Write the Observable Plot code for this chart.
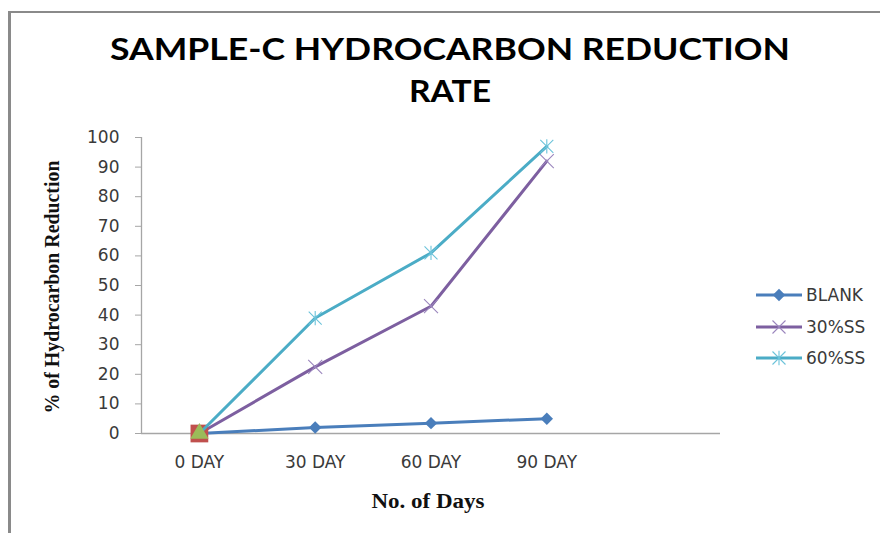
<!DOCTYPE html>
<html>
<head>
<meta charset="utf-8">
<script src="https://cdn.jsdelivr.net/npm/d3@7"></script>
<script src="https://cdn.jsdelivr.net/npm/@observablehq/plot@0.6"></script>
<style>
  html, body { margin: 0; padding: 0; background: #fff; }
  #wrap { position: relative; width: 880px; height: 533px; overflow: hidden; background: #fff; }
  #frame { position: absolute; left: 8px; top: 11px; width: 900px; height: 560px;
           border-left: 3px solid #8a8a8a; border-top: 2px solid #8a8a8a; box-sizing: border-box; }
  #chart, #overlay { position: absolute; left: 0; top: 0; }
  #chart [aria-label="y-axis tick"] { stroke: #a6a6a6; }
</style>
</head>
<body>
<div id="wrap">
  <div id="frame"></div>
  <div id="chart"></div>
  <svg id="overlay" width="880" height="533"></svg>
</div>
<script>
// ---- data ----
const days = ["0 DAY", "30 DAY", "60 DAY", "90 DAY"];
const seriesNames = ["BLANK", "30%SS", "60%SS"];
const blankValues = [0, 2, 3.5, 5];
const ss30Values = [0, 22.5, 43, 92];
const ss60Values = [0, 39, 61, 97];
const yTicks = [0, 10, 20, 30, 40, 50, 60, 70, 80, 90, 100];
const titleLines = ["SAMPLE-C HYDROCARBON REDUCTION", "RATE"];
const xLabel = "No. of Days";
const yLabel = "% of Hydrocarbon Reduction";

const seriesValues = [blankValues, ss30Values, ss60Values];
const rows = seriesNames.flatMap((s, k) =>
  days.map((d, i) => ({series: s, day: d, idx: i, value: seriesValues[k][i]})));

// ---- styles ----
const lineColors = {"BLANK": "#4a7ebb", "30%SS": "#7d5fa0", "60%SS": "#4bacc6"};
const markColors = {"BLANK": "#4a7ebb", "30%SS": "#9b86bd", "60%SS": "#6cc3da"};

const timesSymbol = {
  draw(ctx, size) {
    const r = Math.sqrt(size / Math.PI);
    ctx.moveTo(-r, -r); ctx.lineTo(r, r);
    ctx.moveTo(-r, r); ctx.lineTo(r, -r);
  }
};
const starSymbol = {
  draw(ctx, size) {
    const r = Math.sqrt(size / Math.PI);
    ctx.moveTo(-r, -r); ctx.lineTo(r, r);
    ctx.moveTo(-r, r); ctx.lineTo(r, -r);
    ctx.moveTo(0, -r * 1.1); ctx.lineTo(0, r * 1.1);
  }
};

const bySeries = s => rows.filter(d => d.series === s);
const later = s => rows.filter(d => d.series === s && d.idx > 0);
const first = s => rows.filter(d => d.series === s && d.idx === 0);

const chart = Plot.plot({
  width: 880,
  height: 533,
  marginLeft: 141,
  marginRight: 160,
  marginTop: 137,
  marginBottom: 100,
  style: {fontFamily: "DejaVu Sans", fontSize: "17px", color: "#3a3a3a", background: "transparent"},
  x: {domain: [-0.5, 4.5], axis: null, label: null},
  y: {domain: [0, 100], axis: null, label: null},
  marks: [
    Plot.ruleY([0], {x1: -0.5, x2: 4.5, stroke: "#a6a6a6", strokeWidth: 1.5}),
    Plot.ruleX([-0.5], {y1: 0, y2: 100, stroke: "#a6a6a6", strokeWidth: 1.3}),
    Plot.axisY({ticks: yTicks, tickSize: 6, tickPadding: 16, anchor: "left", label: null, fill: "#3a3a3a"}),
    Plot.axisX({ticks: [0, 1, 2, 3], tickFormat: i => days[i], tickSize: 0, tickPadding: 22, anchor: "bottom", label: null, fill: "#3a3a3a"}),

    // BLANK
    Plot.line(bySeries("BLANK"), {x: "idx", y: "value", stroke: lineColors["BLANK"], strokeWidth: 3}),
    Plot.dot(bySeries("BLANK"), {x: "idx", y: "value", symbol: "diamond2", r: 5.6, fill: markColors["BLANK"], stroke: "none"}),

    // 30%SS
    Plot.line(bySeries("30%SS"), {x: "idx", y: "value", stroke: lineColors["30%SS"], strokeWidth: 3}),
    Plot.dot(later("30%SS"), {x: "idx", y: "value", symbol: timesSymbol, r: 7, fill: "none", stroke: markColors["30%SS"], strokeWidth: 1.1}),
    Plot.dot(first("30%SS"), {x: "idx", y: "value", symbol: "square", r: 10, fill: "#c0504d", stroke: "none"}),

    // 60%SS
    Plot.line(bySeries("60%SS"), {x: "idx", y: "value", stroke: lineColors["60%SS"], strokeWidth: 3}),
    Plot.dot(later("60%SS"), {x: "idx", y: "value", symbol: starSymbol, r: 6.5, fill: "none", stroke: markColors["60%SS"], strokeWidth: 1.1}),
    Plot.dot(first("60%SS"), {x: "idx", y: "value", symbol: "triangle", r: 6.8, fill: "#9bbb59", stroke: "none"})
  ]
});
document.getElementById("chart").appendChild(chart);

// ---- titles, axis labels, legend ----
const ov = d3.select("#overlay");
ov.append("text").text(titleLines[0])
  .attr("x", 450).attr("y", 60).attr("text-anchor", "middle")
  .attr("textLength", 680).attr("lengthAdjust", "spacingAndGlyphs")
  .style("font-family", "Lato").style("font-weight", "bold").style("font-size", "31px").style("fill", "#000");
ov.append("text").text(titleLines[1])
  .attr("x", 450).attr("y", 102).attr("text-anchor", "middle")
  .attr("textLength", 82).attr("lengthAdjust", "spacingAndGlyphs")
  .style("font-family", "Lato").style("font-weight", "bold").style("font-size", "31px").style("fill", "#000");

ov.append("text").text(xLabel)
  .attr("x", 428).attr("y", 508).attr("text-anchor", "middle")
  .attr("textLength", 113).attr("lengthAdjust", "spacingAndGlyphs")
  .style("font-family", "Liberation Serif").style("font-weight", "bold").style("font-size", "20px").style("fill", "#111");

ov.append("text").text(yLabel)
  .attr("transform", "translate(59,287) rotate(-90)").attr("text-anchor", "middle")
  .attr("textLength", 253).attr("lengthAdjust", "spacingAndGlyphs")
  .style("font-family", "Liberation Serif").style("font-weight", "bold").style("font-size", "20px").style("fill", "#111");

const legendY = [295, 327, 358];
const legendSymbols = {"BLANK": d3.symbolDiamond2, "30%SS": timesSymbol, "60%SS": starSymbol};
seriesNames.forEach((s, k) => {
  const g = ov.append("g").attr("transform", `translate(0,${legendY[k]})`);
  g.append("line").attr("x1", 756).attr("x2", 802).attr("y1", 0).attr("y2", 0)
    .attr("stroke", lineColors[s]).attr("stroke-width", 3);
  const sym = d3.symbol(legendSymbols[s], Math.PI * (s === "BLANK" ? 5.6 * 5.6 : 6.5 * 6.5))();
  g.append("path").attr("d", sym).attr("transform", "translate(779,0)")
    .attr("fill", s === "BLANK" ? markColors[s] : "none")
    .attr("stroke", s === "BLANK" ? "none" : markColors[s]).attr("stroke-width", 1.1);
  g.append("text").text(s).attr("x", 806).attr("y", 0).attr("dy", "0.35em")
    .style("font-family", "DejaVu Sans").style("font-size", "17px").style("fill", "#3a3a3a");
});
</script>
</body>
</html>
